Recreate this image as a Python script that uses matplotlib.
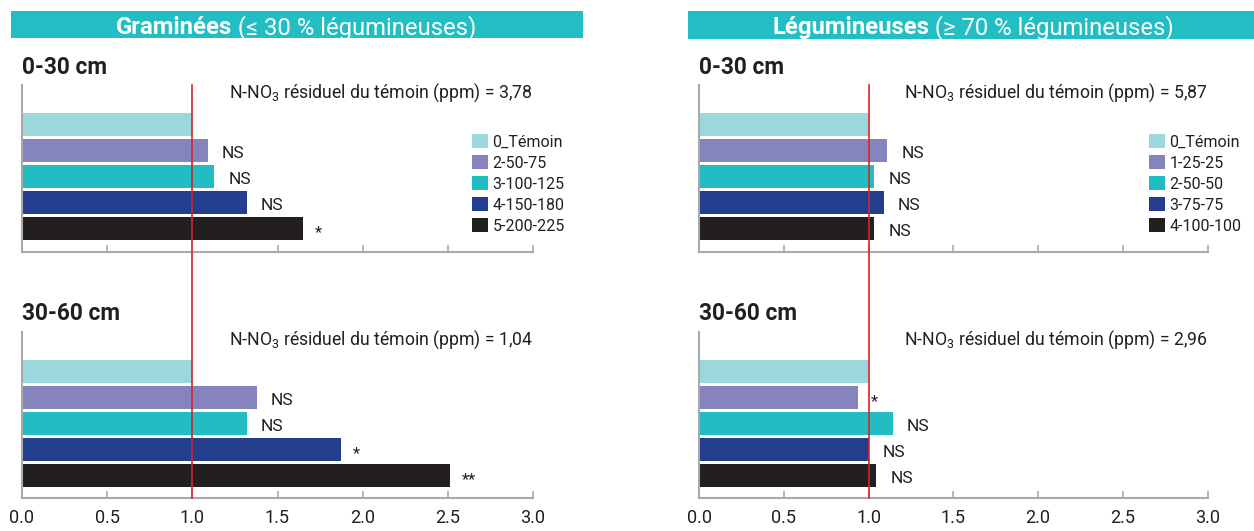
import matplotlib
matplotlib.use("Agg")
import matplotlib.pyplot as plt
from matplotlib.patches import Patch, Rectangle
from matplotlib.lines import Line2D
from matplotlib.transforms import blended_transform_factory

plt.rcParams['font.family'] = ['Roboto', 'DejaVu Sans']
plt.rcParams['mathtext.fontset'] = 'custom'
plt.rcParams['mathtext.rm'] = 'Roboto'

# data (relative to the control = 1)
cats_gram = ['0_Témoin', '2-50-75', '3-100-125', '4-150-180', '5-200-225']
gram_0_30 = [1.0, 1.09, 1.13, 1.32, 1.65]
gram_30_60 = [1.0, 1.38, 1.32, 1.87, 2.51]
sig_gram_0_30 = ['', 'NS', 'NS', 'NS', '*']
sig_gram_30_60 = ['', 'NS', 'NS', '*', '**']

cats_leg = ['0_Témoin', '1-25-25', '2-50-50', '3-75-75', '4-100-100']
leg_0_30 = [1.0, 1.11, 1.035, 1.09, 1.035]
leg_30_60 = [1.0, 0.94, 1.145, 1.0, 1.045]
sig_leg_0_30 = ['', 'NS', 'NS', 'NS', 'NS']
sig_leg_30_60 = ['', '*', 'NS', 'NS', 'NS']

temoin_gram = ['3,78', '1,04']
temoin_leg = ['5,87', '2,96']

colors = ['#9cd8db', '#8584bc', '#21bdc2', '#233e8c', '#231f20']
teal = '#22bec4'
grey = '#a7a9ac'
red = '#d2262c'
dark = '#231f20'

W, H = 1254, 531
fig = plt.figure(figsize=(W / 100, H / 100), dpi=100)


def px(x0, y_top, w, h):
    return [x0 / W, 1 - (y_top + h) / H, w / W, h / H]


def draw_panel(ax, vals, sigs, ppm, depth, ylim, last_row):
    ypos = list(range(len(vals) - 1, -1, -1))
    ax.barh(ypos, vals, height=0.9, color=colors, zorder=2)
    for y, v, s in zip(ypos, vals, sigs):
        if s == 'NS':
            ax.annotate(s, xy=(v, y), xytext=(14, -3), textcoords='offset pixels',
                        ha='left', va='center', fontsize=12.5, color=dark)
        elif s:
            ax.annotate(s, xy=(v, y), xytext=(12, -4), textcoords='offset pixels',
                        ha='left', va='center', fontsize=12, color=dark)
    ax.set_xlim(0, 3)
    ax.set_ylim(*ylim)
    ax.set_yticks([])
    ax.set_xticks([0, 0.5, 1, 1.5, 2, 2.5, 3])
    ax.tick_params(axis='x', direction='in', length=5, width=1.2, color=grey,
                   labelsize=13, labelcolor=dark, pad=8, labelbottom=last_row)
    ax.xaxis.set_major_formatter(matplotlib.ticker.FormatStrFormatter('%.1f'))
    for s in ['top', 'right']:
        ax.spines[s].set_visible(False)
    for s in ['left', 'bottom']:
        ax.spines[s].set_color(grey)
        ax.spines[s].set_linewidth(1.5)
    ax.annotate(depth, xy=(0, 1), xycoords='axes fraction', xytext=(0, 18),
                textcoords='offset pixels', ha='left', va='center',
                fontsize=16.3, fontweight='bold', color=dark)
    ax.text(3.0, 0.955, 'N-NO$_3$ résiduel du témoin (ppm) = ' + ppm,
            transform=blended_transform_factory(ax.transData, ax.transAxes),
            ha='right', va='center', fontsize=12.7, color=dark)


ax_gt = fig.add_axes(px(22, 85, 511, 167))
ax_gb = fig.add_axes(px(22, 332, 511, 166))
ax_lt = fig.add_axes(px(699, 85, 508.5, 167))
ax_lb = fig.add_axes(px(699, 332, 508.5, 166))

draw_panel(ax_gt, gram_0_30, sig_gram_0_30, temoin_gram[0], '0-30 cm', (-0.9, 5.52), False)
draw_panel(ax_gb, gram_30_60, sig_gram_30_60, temoin_gram[1], '30-60 cm', (-0.87, 5.51), True)
draw_panel(ax_lt, leg_0_30, sig_leg_0_30, temoin_leg[0], '0-30 cm', (-0.9, 5.52), False)
draw_panel(ax_lb, leg_30_60, sig_leg_30_60, temoin_leg[1], '30-60 cm', (-0.87, 5.51), True)

# red reference line at 1.0, running through both depths
for ax in (ax_gt, ax_lt):
    tr = blended_transform_factory(ax.transData, fig.transFigure)
    fig.add_artist(Line2D([1.0, 1.0], [1 - 85 / H, 1 - 498 / H], transform=tr,
                          color=red, lw=1.2, zorder=5))

# legends
for cats, x0 in ((cats_gram, 472), (cats_leg, 1149)):
    handles = [Patch(facecolor=c, edgecolor='none') for c in colors]
    fig.legend(handles, cats, loc='upper left', bbox_to_anchor=(x0 / W, 1 - 134 / H),
               frameon=False, fontsize=11.5, handlelength=1.0, handleheight=1.0,
               labelspacing=0.34, handletextpad=0.28, borderpad=0, borderaxespad=0,
               labelcolor=dark)

# header bands
fig.add_artist(Rectangle((11 / W, 1 - 38 / H), 572 / W, 27 / H, transform=fig.transFigure,
                         facecolor=teal, edgecolor='none'))
fig.add_artist(Rectangle((688 / W, 1 - 39 / H), (W - 688) / W, 28 / H, transform=fig.transFigure,
                         facecolor=teal, edgecolor='none'))

fig.canvas.draw()
rend = fig.canvas.get_renderer()
for bold, rest, cx in (('Graminées', ' (≤ 30 % légumineuses)', 296),
                       ('Légumineuses', ' (≥ 70 % légumineuses)', 973)):
    t1 = fig.text(0, 1 - 25 / H, bold, fontsize=17.2, fontweight='bold', color='white',
                  ha='left', va='center_baseline')
    t2 = fig.text(0, 1 - 25 / H, rest, fontsize=17.2, color='white',
                  ha='left', va='center_baseline')
    w1 = t1.get_window_extent(rend).width
    w2 = t2.get_window_extent(rend).width
    start = cx - (w1 + w2) / 2
    t1.set_x(start / W)
    t2.set_x((start + w1) / W)

fig.savefig('out.png', dpi=100)
